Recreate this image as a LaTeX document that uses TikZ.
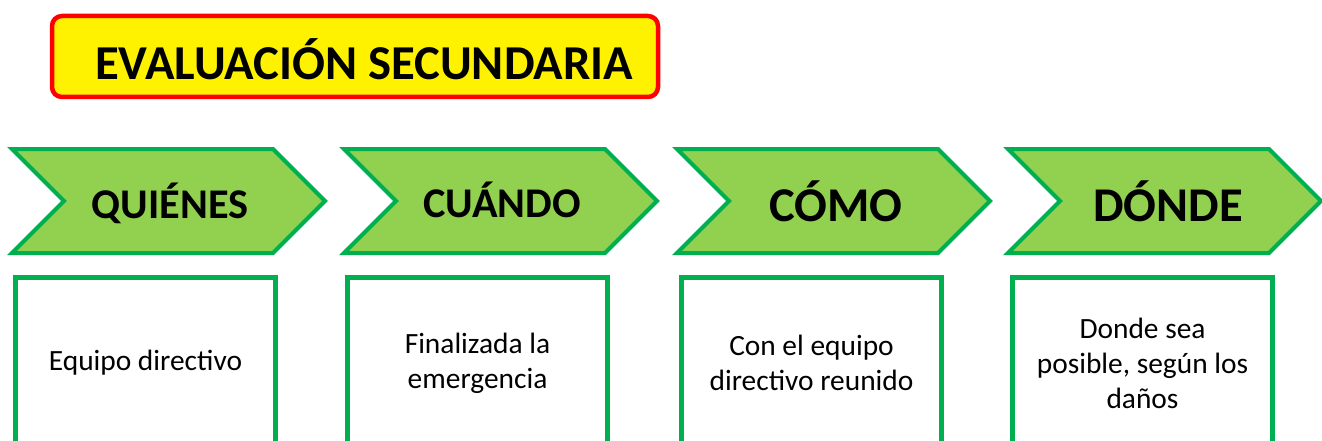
\documentclass[tikz,border=0pt]{standalone}
\usepackage{fontspec}
\setmainfont{Carlito}
\usetikzlibrary{shapes.symbols}
\definecolor{chevgreen}{HTML}{92D050}
\definecolor{linegreen}{HTML}{00B050}
\begin{document}
\begin{tikzpicture}[x=1pt, y=-1pt,
  titlebox/.style={shape=rectangle, rounded corners=10pt, draw=red, fill=yellow, line width=4.5pt, minimum width=606pt, minimum height=81pt},
  titletext/.style={anchor=base, inner sep=0pt, font=\bfseries\fontsize{48.7}{58}\selectfont},
  chev/.style={shape=signal, signal from=west, signal to=east, signal pointer angle=90, draw=linegreen, fill=chevgreen, line width=4pt, minimum width=313pt, minimum height=104pt, inner sep=0pt},
  chevtext/.style={anchor=base, inner sep=0pt, font=\bfseries\fontsize{42.3}{50}\selectfont},
  bigtext/.style={font=\bfseries\fontsize{48.5}{58}\selectfont},
  infobox/.style={shape=rectangle, draw=linegreen, line width=5pt, minimum width=260pt, minimum height=172pt, align=center, font=\fontsize{29.4}{35}\selectfont}]
\path[use as bounding box, clip] (0,0) rectangle (1322,441);
% title
\node[titlebox] (title) at (355,56.5) {};
\node[titletext] (title text) at (364,80) {EVALUACIÓN SECUNDARIA};
% chevrons
\node[chev] (quienes) at (168.5,201) {};
\node[chev] (cuando) at (500.5,201) {};
\node[chev] (como) at (833.5,201) {};
\node[chev] (donde) at (1164.5,201) {};
\node[chevtext] (quienes text) at (170,218) {QUIÉNES};
\node[chevtext] (cuando text) at (502,217) {CUÁNDO};
\node[chevtext, bigtext] (como text) at (836,221) {CÓMO};
\node[chevtext, bigtext] (donde text) at (1168,221) {DÓNDE};
% boxes
\node[infobox] (quienes box) at (145.5,363) {Equipo directivo};
\node[infobox] (cuando box) at (477.5,363) {Finalizada la\\emergencia};
\node[infobox] (como box) at (811.5,363) {Con el equipo\\directivo reunido};
\node[infobox] (donde box) at (1142.5,363) {Donde sea\\posible, según los\\daños};
\end{tikzpicture}
\end{document}
